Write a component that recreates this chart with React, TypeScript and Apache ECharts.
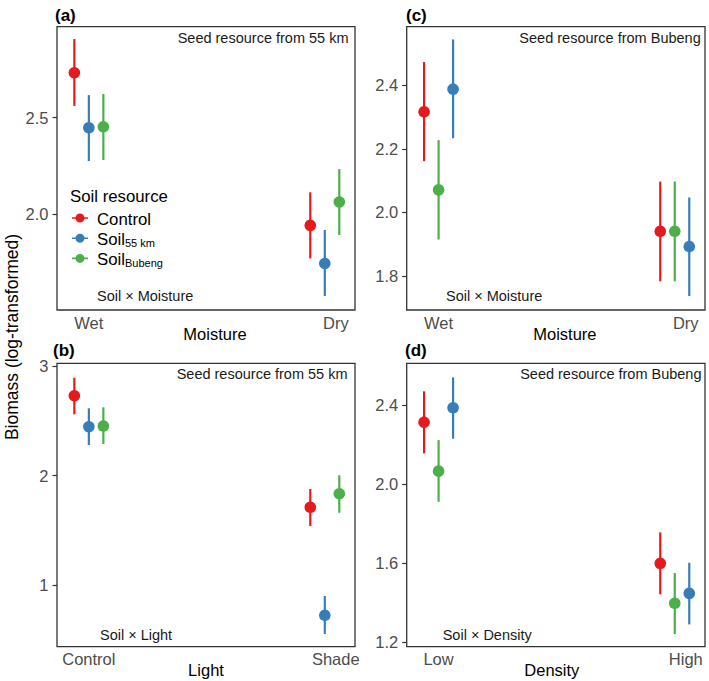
import React, { useEffect, useRef } from "react";
import * as echarts from "echarts";

// ---------------- data ----------------
const soilNames = ["Control", "Soil55", "SoilBubeng"];

const moistureCats = ["Wet", "Dry"];
const lightCats = ["Control", "Shade"];
const densityCats = ["Low", "High"];

// (a) Moisture, seed from 55 km
const aControlMean = [2.733, 1.943];
const aControlLo = [2.561, 1.772];
const aControlHi = [2.907, 2.114];
const aSoil55Mean = [2.448, 1.746];
const aSoil55Lo = [2.276, 1.577];
const aSoil55Hi = [2.617, 1.919];
const aBubengMean = [2.453, 2.064];
const aBubengLo = [2.281, 1.893];
const aBubengHi = [2.623, 2.234];
const aTicks = [2.0, 2.5];
const aRange = [1.505, 2.971];

// (b) Light, seed from 55 km
const bControlMean = [2.729, 1.71];
const bControlLo = [2.559, 1.539];
const bControlHi = [2.893, 1.877];
const bSoil55Mean = [2.446, 0.723];
const bSoil55Lo = [2.279, 0.553];
const bSoil55Hi = [2.614, 0.9];
const bBubengMean = [2.452, 1.834];
const bBubengLo = [2.288, 1.66];
const bBubengHi = [2.623, 2.002];
const bTicks = [1, 2, 3];
const bRange = [0.4365, 3.025];

// (c) Moisture, seed from Bubeng
const cControlMean = [2.316, 1.941];
const cControlLo = [2.161, 1.784];
const cControlHi = [2.472, 2.097];
const cSoil55Mean = [2.387, 1.893];
const cSoil55Lo = [2.233, 1.738];
const cSoil55Hi = [2.543, 2.047];
const cBubengMean = [2.071, 1.941];
const cBubengLo = [1.915, 1.784];
const cBubengHi = [2.227, 2.097];
const cTicks = [1.8, 2.0, 2.2, 2.4];
const cRange = [1.694, 2.583];

// (d) Density, seed from Bubeng
const dControlMean = [2.315, 1.6];
const dControlLo = [2.157, 1.443];
const dControlHi = [2.471, 1.757];
const dSoil55Mean = [2.388, 1.448];
const dSoil55Lo = [2.231, 1.291];
const dSoil55Hi = [2.542, 1.603];
const dBubengMean = [2.067, 1.398];
const dBubengLo = [1.912, 1.242];
const dBubengHi = [2.224, 1.551];
const dTicks = [1.2, 1.6, 2.0, 2.4];
const dRange = [1.178, 2.613];

// ---------------- styles ----------------
const FONT = '"Liberation Sans", Arial, Helvetica, sans-serif';
const COLORS: Record<string, string> = {
  Control: "#E41A1C",
  Soil55: "#377EB8",
  SoilBubeng: "#4DAF4A",
};
const DODGE = 14.5;

type Panel = {
  letter: string;
  grid: { left: number; top: number; width: number; height: number };
  cats: string[];
  axisName: string;
  namePad: number[];
  ticks: number[];
  range: number[];
  decimals: number;
  seed: string;
  seedInset: number;
  inter: string;
  interDx: number;
  interDy: number;
  slots: Record<string, number>;
  stats: Record<string, number[][]>;
};

const panels: Panel[] = [
  {
    letter: "(a)",
    grid: { left: 57, top: 26.7, width: 298, height: 283.3 },
    cats: moistureCats,
    axisName: "Moisture",
    namePad: [0, 0, 0, 18],
    ticks: aTicks,
    range: aRange,
    decimals: 1,
    seed: "Seed resource from 55 km",
    seedInset: 6.5,
    inter: "Soil × Moisture",
    interDx: 40,
    interDy: 14,
    slots: { Control: -1, Soil55: 0, SoilBubeng: 1 },
    stats: {
      Control: [aControlMean, aControlLo, aControlHi],
      Soil55: [aSoil55Mean, aSoil55Lo, aSoil55Hi],
      SoilBubeng: [aBubengMean, aBubengLo, aBubengHi],
    },
  },
  {
    letter: "(c)",
    grid: { left: 406.7, top: 26.7, width: 298.3, height: 283.3 },
    cats: moistureCats,
    axisName: "Moisture",
    namePad: [0, 0, 0, 18],
    ticks: cTicks,
    range: cRange,
    decimals: 1,
    seed: "Seed resource from Bubeng",
    seedInset: 4.3,
    inter: "Soil × Moisture",
    interDx: 39.3,
    interDy: 14,
    slots: { Control: -1, SoilBubeng: 0, Soil55: 1 },
    stats: {
      Control: [cControlMean, cControlLo, cControlHi],
      Soil55: [cSoil55Mean, cSoil55Lo, cSoil55Hi],
      SoilBubeng: [cBubengMean, cBubengLo, cBubengHi],
    },
  },
  {
    letter: "(b)",
    grid: { left: 57, top: 363.3, width: 298, height: 283.4 },
    cats: lightCats,
    axisName: "Light",
    namePad: [0, 0, 0, 0],
    ticks: bTicks,
    range: bRange,
    decimals: 0,
    seed: "Seed resource from 55 km",
    seedInset: 7.5,
    inter: "Soil × Light",
    interDx: 43,
    interDy: 11.7,
    slots: { Control: -1, Soil55: 0, SoilBubeng: 1 },
    stats: {
      Control: [bControlMean, bControlLo, bControlHi],
      Soil55: [bSoil55Mean, bSoil55Lo, bSoil55Hi],
      SoilBubeng: [bBubengMean, bBubengLo, bBubengHi],
    },
  },
  {
    letter: "(d)",
    grid: { left: 406.7, top: 363.3, width: 298.3, height: 283.4 },
    cats: densityCats,
    axisName: "Density",
    namePad: [0, 8, 0, 0],
    ticks: dTicks,
    range: dRange,
    decimals: 1,
    seed: "Seed resource from Bubeng",
    seedInset: 3.5,
    inter: "Soil × Density",
    interDx: 36,
    interDy: 11.7,
    slots: { Control: -1, SoilBubeng: 0, Soil55: 1 },
    stats: {
      Control: [dControlMean, dControlLo, dControlHi],
      Soil55: [dSoil55Mean, dSoil55Lo, dSoil55Hi],
      SoilBubeng: [dBubengMean, dBubengLo, dBubengHi],
    },
  },
];

const letterPos = [
  { x: 55, y: 15.5 },
  { x: 406, y: 15.5 },
  { x: 53, y: 350 },
  { x: 405, y: 350 },
];

function buildOption() {
  const grids: any[] = [];
  const xAxes: any[] = [];
  const yAxes: any[] = [];
  const series: any[] = [];
  const graphics: any[] = [];

  panels.forEach((p, pi) => {
    grids.push({
      ...p.grid,
      containLabel: false,
      outerBoundsMode: "none",
      show: true,
      borderColor: "#333333",
      borderWidth: 1.3,
      backgroundColor: "transparent",
    });
    xAxes.push({
      type: "value",
      gridIndex: pi,
      position: "bottom",
      min: -0.135,
      max: 1.128,
      name: p.axisName,
      nameLocation: "middle",
      nameGap: 15,
      nameMoveOverlap: false,
      nameTextStyle: {
        fontFamily: FONT,
        fontSize: 16.5,
        color: "#000",
        padding: p.namePad,
      },
      axisLine: { show: false, onZero: false },
      axisTick: { show: false },
      splitLine: { show: false },
      axisLabel: {
        customValues: [0, 1],
        margin: 4,
        fontFamily: FONT,
        fontSize: 16.5,
        color: "#4D4D4D",
        formatter: (v: number) =>
          v < 0.5 ? `{l|${p.cats[0]}}` : `{r|${p.cats[1]}}`,
        rich: {
          l: { fontFamily: FONT, fontSize: 16.5, color: "#4D4D4D" },
          r: {
            fontFamily: FONT,
            fontSize: 16.5,
            color: "#4D4D4D",
            padding: [0, 0, 0, 22],
          },
        },
      },
    });
    yAxes.push({
      type: "value",
      gridIndex: pi,
      position: "left",
      min: p.range[0],
      max: p.range[1],
      axisLine: { show: false, onZero: false },
      splitLine: { show: false },
      axisTick: {
        show: true,
        customValues: p.ticks,
        length: 4.5,
        lineStyle: { color: "#333333", width: 1.2 },
      },
      axisLabel: {
        customValues: p.ticks,
        margin: 8.5,
        fontFamily: FONT,
        fontSize: 16.5,
        color: "#4D4D4D",
        formatter: (v: number) => v.toFixed(p.decimals),
      },
    });

    soilNames.forEach((s) => {
      const [mean, lo, hi] = p.stats[s];
      const slot = p.slots[s];
      series.push({
        type: "custom",
        name: s,
        xAxisIndex: pi,
        yAxisIndex: pi,
        clip: false,
        itemStyle: { color: COLORS[s] },
        data: p.cats.map((_, i) => [i, mean[i], lo[i], hi[i]]),
        renderItem: (params: any, api: any) => {
          const c = api.coord([api.value(0), api.value(1)]);
          const l = api.coord([api.value(0), api.value(2)]);
          const h = api.coord([api.value(0), api.value(3)]);
          const x = c[0] + slot * DODGE;
          const color = COLORS[s];
          return {
            type: "group",
            children: [
              {
                type: "line",
                shape: { x1: x, y1: h[1], x2: x, y2: l[1] },
                style: { stroke: color, lineWidth: 2.2 },
              },
              {
                type: "circle",
                shape: { cx: x, cy: c[1], r: 5.8 },
                style: { fill: color },
              },
            ],
          };
        },
      });
    });

    const g = p.grid;
    graphics.push({
      type: "text",
      x: letterPos[pi].x,
      y: letterPos[pi].y,
      style: {
        text: p.letter,
        fontFamily: FONT,
        fontSize: 17,
        fontWeight: "bold",
        fill: "#000",
        align: "left",
        verticalAlign: "middle",
      },
    });
    graphics.push({
      type: "text",
      x: g.left + g.width - p.seedInset,
      y: g.top + 11,
      style: {
        text: p.seed,
        fontFamily: FONT,
        fontSize: 14.5,
        fill: "#1a1a1a",
        align: "right",
        verticalAlign: "middle",
      },
    });
    graphics.push({
      type: "text",
      x: g.left + p.interDx,
      y: g.top + g.height - p.interDy,
      style: {
        text: p.inter,
        fontFamily: FONT,
        fontSize: 14.5,
        fill: "#1a1a1a",
        align: "left",
        verticalAlign: "middle",
      },
    });
  });

  graphics.push({
    type: "text",
    x: 70,
    y: 196,
    style: {
      text: "Soil resource",
      fontFamily: FONT,
      fontSize: 16.8,
      fill: "#000",
      align: "left",
      verticalAlign: "middle",
    },
  });
  graphics.push({
    type: "text",
    x: 11.5,
    y: 337,
    rotation: Math.PI / 2,
    style: {
      text: "Biomass (log-transformed)",
      fontFamily: FONT,
      fontSize: 17.5,
      fill: "#000",
      align: "center",
      verticalAlign: "middle",
    },
  });

  return {
    animation: false,
    backgroundColor: "#ffffff",
    grid: grids,
    xAxis: xAxes,
    yAxis: yAxes,
    series,
    legend: {
      data: soilNames,
      orient: "vertical",
      left: 72,
      top: 211,
      padding: 0,
      itemWidth: 16,
      itemHeight: 9,
      itemGap: 3.2,
      selectedMode: false,
      icon: "path://M0,4.2H16V5.8H0Z M12.5,5A4.5,4.5 0 1,1 3.5,5A4.5,4.5 0 1,1 12.5,5Z",
      formatter: (name: string) =>
        name === "Control"
          ? "{m|Control}"
          : name === "Soil55"
          ? "{m|Soil}{s|55 km}"
          : "{m|Soil}{s|Bubeng}",
      textStyle: {
        fontFamily: FONT,
        fontSize: 16.8,
        color: "#000",
        padding: [0, 0, 0, 4],
        rich: {
          m: {
            fontFamily: FONT,
            fontSize: 16.8,
            lineHeight: 20,
            color: "#000",
            verticalAlign: "bottom",
          },
          s: {
            fontFamily: FONT,
            fontSize: 11,
            lineHeight: 12,
            color: "#000",
            verticalAlign: "bottom",
          },
        },
      },
    },
    graphic: graphics,
  };
}

export default function App() {
  const ref = useRef<HTMLDivElement>(null);
  useEffect(() => {
    if (!ref.current) return;
    const chart = echarts.init(ref.current, undefined, { renderer: "svg" });
    chart.setOption(buildOption() as any);
    return () => chart.dispose();
  }, []);
  return (
    <div
      ref={ref}
      style={{
        position: "fixed",
        left: 0,
        top: 0,
        width: 709,
        height: 681,
        background: "#fff",
      }}
    />
  );
}
